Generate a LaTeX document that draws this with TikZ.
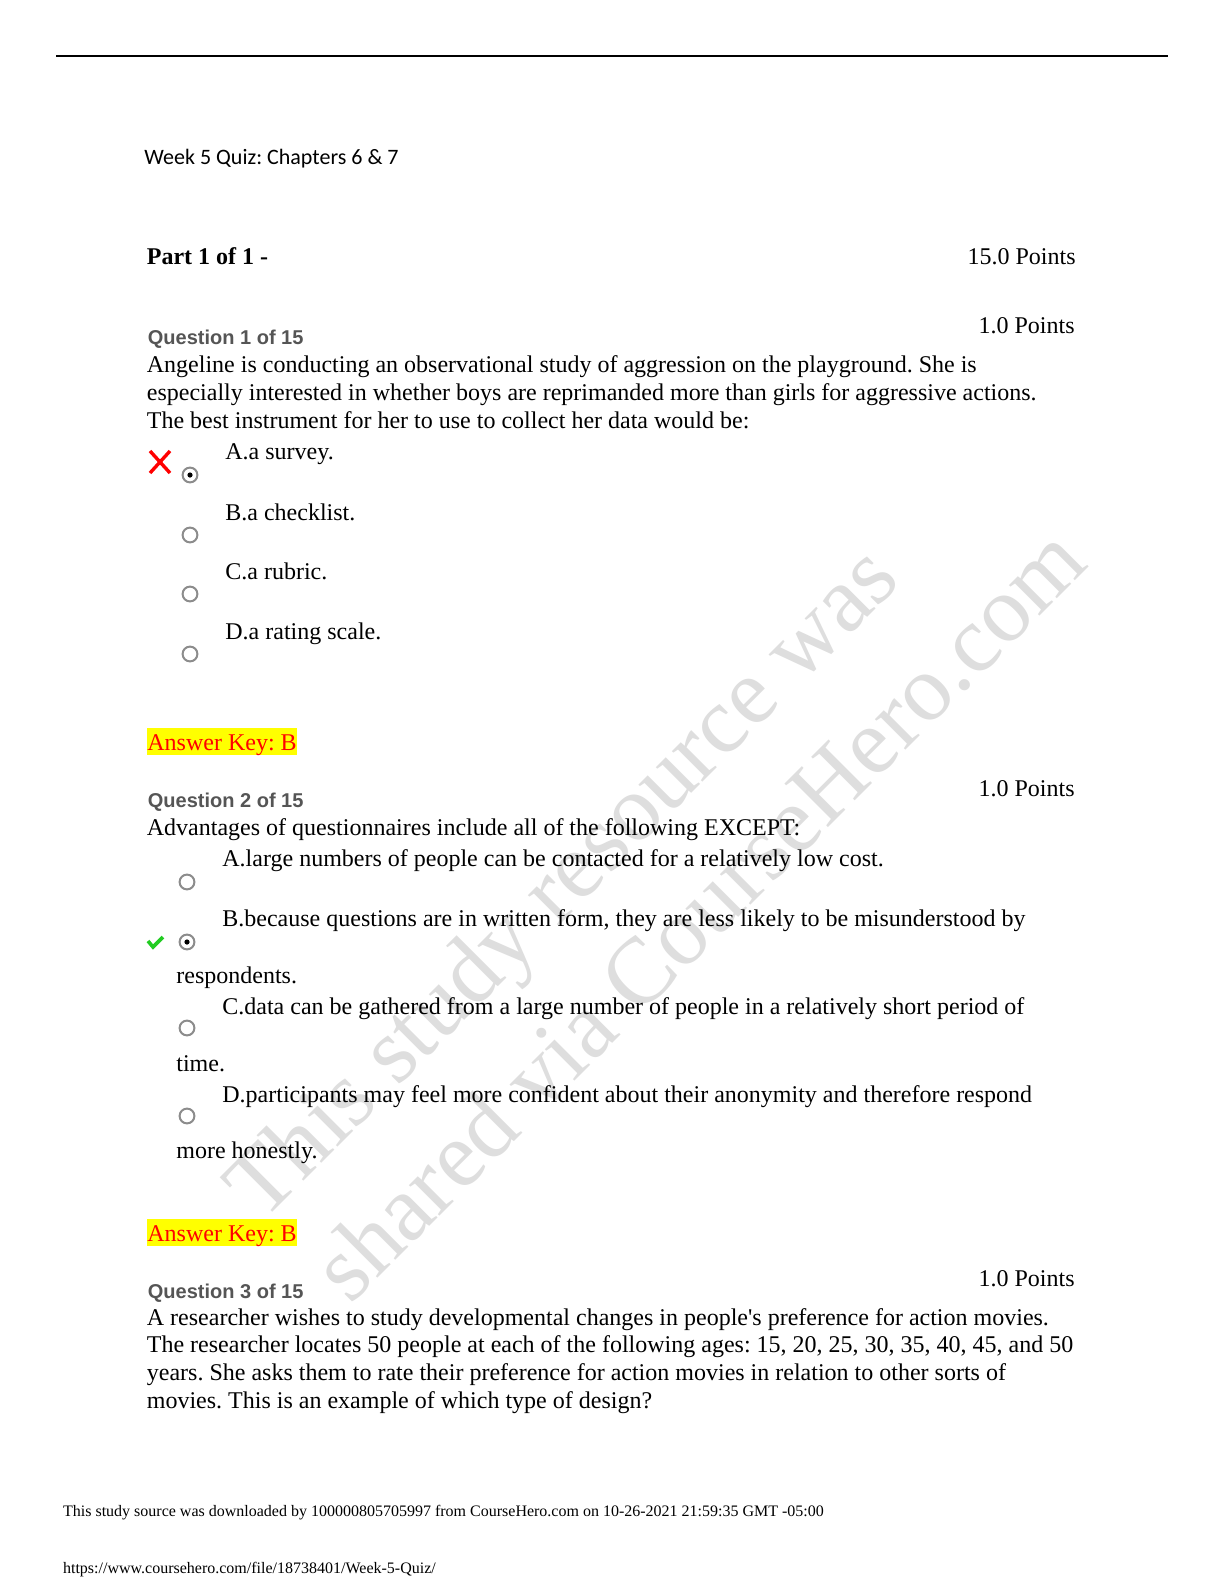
\documentclass[tikz,border=0pt]{standalone}
\usepackage{fontspec}
\setmainfont{Liberation Serif}
\newfontfamily\qsans{Liberation Sans}
\newfontfamily\carl{Carlito}
\definecolor{qgray}{HTML}{555555}
\definecolor{wmark}{HTML}{DEDEDE}
\definecolor{hlyellow}{HTML}{FFFF00}
\definecolor{okgreen}{HTML}{22CC22}
\frenchspacing
\tikzset{
  body/.style={anchor=base west, inner sep=0pt, font=\fontsize{12}{14}\selectfont},
  pts/.style={anchor=base east, inner sep=0pt, font=\fontsize{12}{14}\selectfont},
  qlabel/.style={anchor=base west, inner sep=0pt, text=qgray, font=\qsans\bfseries\fontsize{10}{12}\selectfont},
  anskey/.style={anchor=base west, inner sep=0pt, text=red, font=\fontsize{12}{14}\selectfont},
  radio/.style={circle, draw=gray!110!black, line width=1pt, fill=white, minimum size=7.4pt, inner sep=0pt},
  wm/.style={anchor=base west, inner sep=0pt, text=wmark, rotate=45, font=\fontsize{47}{50}\selectfont},
  foot/.style={anchor=base west, inner sep=0pt, font=\fontsize{8}{9}\selectfont},
}
\begin{document}
\begin{tikzpicture}[x=0.5pt,y=-0.5pt]
\useasboundingbox (0,0) rectangle (1224,1584);
\fill[white] (0,0) rectangle (1224,1584);
% watermark
\node[wm] (wm1) at (262,1223) {This study resource was};
\node[wm] (wm2) at (350,1306) {shared via CourseHero.com};
% top rule
\coordinate (rl) at (56,56);
\coordinate (rr) at (1168,56);
\draw[line width=0.8pt] (rl) -- (rr);
% header
\node[anchor=base west, inner sep=0pt, font=\carl\fontsize{11}{13}\selectfont] (title) at (144,164) {Week 5 Quiz: Chapters 6 \& 7};
\node[body, font=\bfseries\fontsize{12}{14}\selectfont] (part) at (146.5,264) {Part 1 of 1 -};
\node[pts] (ptot) at (1076,264) {15.0 Points};
% Question 1
\node[pts] (p1) at (1075,333) {1.0 Points};
\node[qlabel] (q1) at (147.5,344) {Question 1 of 15};
\node[body] (q1l1) at (146.5,372.5) {Angeline is conducting an observational study of aggression on the playground. She is};
\node[body] (q1l2) at (146.5,400.5) {especially interested in whether boys are reprimanded more than girls for aggressive actions.};
\node[body] (q1l3) at (146.5,428) {The best instrument for her to use to collect her data would be:};
\node[body] (q1a) at (225,459) {A.a survey.};
\node[body] (q1b) at (225,520) {B.a checklist.};
\node[body] (q1c) at (225,579) {C.a rubric.};
\node[body] (q1d) at (225,639) {D.a rating scale.};
\node[radio] (r1a) at (190,475) {};
\fill (r1a.center) circle (2.6);
\node[radio] (r1b) at (190,535) {};
\node[radio] (r1c) at (190,594) {};
\node[radio] (r1d) at (190,654) {};
\coordinate (x1) at (160,462);
\draw[red, line width=1.7pt] ([shift={(-10,-11)}]x1) -- ([shift={(10,11)}]x1) ([shift={(10,-11)}]x1) -- ([shift={(-10,11)}]x1);
\fill[hlyellow] (147,728) rectangle (297,755);
\node[anskey] (k1) at (147,750) {Answer Key: B};
% Question 2
\node[pts] (p2) at (1075,796) {1.0 Points};
\node[qlabel] (q2) at (147.5,807) {Question 2 of 15};
\node[body] (q2l1) at (146.5,835) {Advantages of questionnaires include all of the following EXCEPT:};
\node[body] (q2a) at (222,866) {A.large numbers of people can be contacted for a relatively low cost.};
\node[radio] (r2a) at (187,882) {};
\node[body] (q2b) at (222,926) {B.because questions are in written form, they are less likely to be misunderstood by};
\node[radio] (r2b) at (187,942) {};
\fill (r2b.center) circle (2.6);
\coordinate (c2) at (155,942);
\draw[okgreen, line width=1.8pt, line join=miter] ([shift={(-7,-1)}]c2) -- ([shift={(-2,5)}]c2) -- ([shift={(8,-5)}]c2);
\node[body] (q2b2) at (176,983) {respondents.};
\node[body] (q2c) at (222,1014) {C.data can be gathered from a large number of people in a relatively short period of};
\node[radio] (r2c) at (187,1028) {};
\node[body] (q2c2) at (176,1071) {time.};
\node[body] (q2d) at (222,1102) {D.participants may feel more confident about their anonymity and therefore respond};
\node[radio] (r2d) at (187,1116) {};
\node[body] (q2d2) at (176,1158) {more honestly.};
\fill[hlyellow] (147,1219) rectangle (297,1246);
\node[anskey] (k2) at (147,1241) {Answer Key: B};
% Question 3
\node[pts] (p3) at (1075,1286) {1.0 Points};
\node[qlabel] (q3) at (147.5,1298) {Question 3 of 15};
\node[body] (q3l1) at (146.5,1325) {A researcher wishes to study developmental changes in people\textquotesingle s preference for action movies.};
\node[body] (q3l2) at (146.5,1352.5) {The researcher locates 50 people at each of the following ages: 15, 20, 25, 30, 35, 40, 45, and 50};
\node[body] (q3l3) at (146.5,1380) {years. She asks them to rate their preference for action movies in relation to other sorts of};
\node[body] (q3l4) at (146.5,1408) {movies. This is an example of which type of design?};
% footer
\node[foot] (f1) at (62.7,1516) {This study source was downloaded by 100000805705997 from CourseHero.com on 10-26-2021 21:59:35 GMT -05:00};
\node[foot] (f2) at (62.7,1573) {https://www.coursehero.com/file/18738401/Week-5-Quiz/};
\end{tikzpicture}
\end{document}
